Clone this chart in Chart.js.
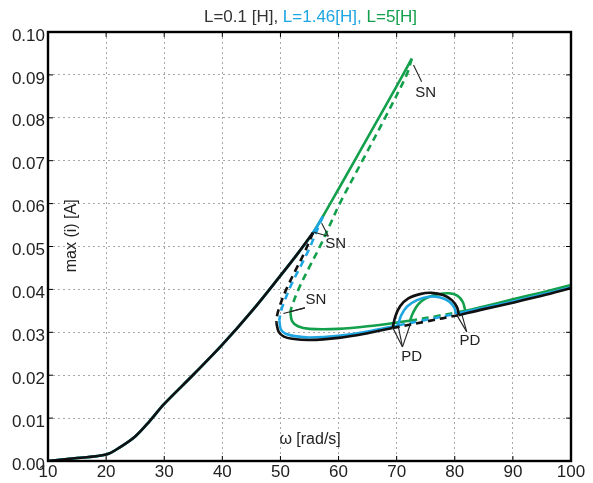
<!DOCTYPE html>
<html>
<head>
<meta charset="utf-8">
<script src="https://cdn.jsdelivr.net/npm/chart.js@4/dist/chart.umd.min.js"></script>
<style>
  html, body { margin: 0; padding: 0; background: #fff; }
  #wrap { width: 593px; height: 483px; }
</style>
</head>
<body>
<div id="wrap"><canvas id="respChart" width="593" height="483"></canvas></div>
<script>
// axis ranges
const omegaRange = [10, 100];
const currentRange = [0, 0.1];

// L = 0.1 H  — [omega, max(i)]
const blackUpper = [[10, 0.0000], [15, 0.0007], [20, 0.0015], [22.5, 0.0033], [25, 0.0057], [27.5, 0.0093], [30, 0.0133], [35, 0.0201], [40, 0.0271], [45, 0.0348], [50, 0.0432], [53, 0.0484], [55.6, 0.0532]];
const blackUnstable = [[55.6, 0.0532], [54.0, 0.0482], [52.5, 0.0442], [51.0, 0.0400], [50.0, 0.0366], [49.4, 0.0338], [49.3, 0.0322]];
const blackLower = [[49.3, 0.0322], [49.7, 0.0301], [50.6, 0.0290], [52, 0.0285], [55, 0.0282], [60, 0.0287], [65, 0.0298], [69.3, 0.0310]];
const blackPeriod1 = [[69.3, 0.0310], [75, 0.0325], [80.7, 0.0340]];
const blackRight = [[80.7, 0.0340], [85, 0.0354], [90, 0.0369], [95, 0.0385], [100, 0.0403]];
const blackPeriod2 = [[69.3, 0.0310], [69.8, 0.0338], [70.6, 0.0361], [72, 0.0379], [74, 0.0389], [76, 0.0392], [78, 0.0387], [79.5, 0.0375], [80.4, 0.0358], [80.7, 0.0340]];

// L = 1.46 H
const blueUpper = [[10, 0.0000], [15, 0.0007], [20, 0.0015], [22.5, 0.0033], [25, 0.0057], [27.5, 0.0093], [30, 0.0133], [35, 0.0201], [40, 0.0271], [45, 0.0348], [50, 0.0432], [53, 0.0484], [55.6, 0.0532], [57.3, 0.0570]];
const blueUnstable = [[57.3, 0.0570], [56.2, 0.0535], [55, 0.0496], [53.5, 0.0455], [52, 0.0415], [50.9, 0.0380], [50.1, 0.0350], [49.8, 0.0328]];
const blueLower = [[49.8, 0.0328], [50.1, 0.0306], [51, 0.0296], [52.5, 0.0291], [55, 0.0288], [60, 0.0292], [65, 0.0302], [70.2, 0.0316]];
const bluePeriod1 = [[70.2, 0.0316], [75, 0.0329], [80.2, 0.0343]];
const blueRight = [[80.2, 0.0343], [85, 0.0357], [90, 0.0372], [95, 0.0388], [100, 0.0405]];
const bluePeriod2 = [[70.2, 0.0316], [70.8, 0.0340], [71.8, 0.0360], [73.5, 0.0375], [75.5, 0.0383], [77.5, 0.0381], [79, 0.0372], [79.9, 0.0358], [80.2, 0.0343]];

// L = 5 H
const greenUpper = [[10, 0.0000], [15, 0.0007], [20, 0.0015], [22.5, 0.0033], [25, 0.0057], [27.5, 0.0093], [30, 0.0133], [35, 0.0201], [40, 0.0271], [45, 0.0348], [50, 0.0432], [53, 0.0484], [55.6, 0.0532], [57.3, 0.0570], [60, 0.0634], [65, 0.0754], [70, 0.0874], [72.6, 0.0938]];
const greenUnstable = [[72.6, 0.0938], [71.7, 0.0900], [68.0, 0.0800], [64.1, 0.0700], [60.2, 0.0600], [58.5, 0.0550], [56.8, 0.0500], [54.9, 0.0450], [53.1, 0.0400], [52.0, 0.0362], [51.7, 0.0348]];
const greenLower = [[51.7, 0.0348], [52.0, 0.0326], [53, 0.0314], [55, 0.0308], [60, 0.0308], [65, 0.0314], [72.3, 0.0327]];
const greenPeriod1 = [[72.3, 0.0327], [77, 0.0338], [81.8, 0.0350]];
const greenRight = [[81.8, 0.0350], [85, 0.0360], [90, 0.0377], [95, 0.0393], [100, 0.0410]];
const greenPeriod2 = [[72.3, 0.0327], [72.8, 0.0345], [73.7, 0.0365], [75, 0.0379], [77, 0.0388], [79, 0.0391], [80.5, 0.0385], [81.4, 0.0370], [81.8, 0.0350]];

// bifurcation notes: label position, leader lines from ends to tip
const notes = [
  { text: 'SN', label: [75.0, 0.0857], tip: [74.3, 0.0884], ends: [[72.9, 0.0923]] },
  { text: 'SN', label: [59.5, 0.0507], tip: [58.25, 0.0524], ends: [[55.66, 0.0534], [57.1, 0.0554]] },
  { text: 'SN', label: [56.1, 0.0375], tip: [54.2, 0.0357], ends: [[50.5, 0.0344], [51.65, 0.0348]] },
  { text: 'PD', label: [72.6, 0.0242], tip: [71.0, 0.0266], ends: [[69.4, 0.0309], [70.3, 0.0312], [72.3, 0.0317]] },
  { text: 'PD', label: [82.6, 0.0280], tip: [82.06, 0.0301], ends: [[80.35, 0.0340], [81.25, 0.0340]] }
];

const titleParts = [['L=0.1 [H], ', '#333333'], ['L=1.46[H], ', '#1ea6e2'], ['L=5[H]', '#13a04c']];

const BLACK = '#111111', BLUE = '#1ea6e2', GREEN = '#13a04c';

function pts(list) {
  return list.map(p => ({ x: p[0], y: p[1] }));
}

function branch(list, color, dashed, order) {
  return {
    data: pts(list),
    borderColor: color,
    borderWidth: 2.6,
    borderDash: dashed ? [7, 5] : [],
    pointRadius: 0,
    tension: 0.35,
    fill: false,
    order: order
  };
}

const datasets = [
  branch(greenUpper, GREEN, false, 2),
  branch(greenUnstable, GREEN, true, 2),
  branch(greenLower, GREEN, false, 2),
  branch(greenPeriod1, GREEN, true, 2),
  branch(greenRight, GREEN, false, 2),
  branch(greenPeriod2, GREEN, false, 2),
  branch(blueUpper, BLUE, false, 1),
  branch(blueUnstable, BLUE, true, 1),
  branch(blueLower, BLUE, false, 1),
  branch(bluePeriod1, BLUE, true, 1),
  branch(blueRight, BLUE, false, 1),
  branch(bluePeriod2, BLUE, false, 1),
  branch(blackUpper, BLACK, false, 0),
  branch(blackUnstable, BLACK, true, 0),
  branch(blackLower, BLACK, false, 0),
  branch(blackPeriod1, BLACK, true, 0),
  branch(blackRight, BLACK, false, 0),
  branch(blackPeriod2, BLACK, false, 0)
];

// frame, inner ticks, notes, axis captions and the coloured title
const decorations = {
  id: 'decorations',
  afterDraw(chart) {
    const { ctx, chartArea: a, scales: { x, y } } = chart;
    const px = v => x.getPixelForValue(v);
    const py = v => y.getPixelForValue(v);

    ctx.save();
    ctx.strokeStyle = '#000';
    ctx.lineWidth = 1;
    x.ticks.forEach(t => {
      const p = px(t.value);
      ctx.beginPath();
      ctx.moveTo(p, a.top); ctx.lineTo(p, a.top + 5);
      ctx.moveTo(p, a.bottom); ctx.lineTo(p, a.bottom - 5);
      ctx.stroke();
    });
    y.ticks.forEach(t => {
      const p = py(t.value);
      ctx.beginPath();
      ctx.moveTo(a.left, p); ctx.lineTo(a.left + 5, p);
      ctx.moveTo(a.right, p); ctx.lineTo(a.right - 5, p);
      ctx.stroke();
    });
    ctx.lineWidth = 2.4;
    ctx.strokeRect(a.left, a.top, a.width, a.height);

    // leader lines + labels
    ctx.strokeStyle = '#222';
    ctx.lineWidth = 1.1;
    ctx.fillStyle = '#222';
    ctx.font = '15px "Liberation Sans", Arial, sans-serif';
    ctx.textAlign = 'center';
    ctx.textBaseline = 'middle';
    notes.forEach(n => {
      n.ends.forEach(e => {
        ctx.beginPath();
        ctx.moveTo(px(e[0]), py(e[1]));
        ctx.lineTo(px(n.tip[0]), py(n.tip[1]));
        ctx.stroke();
      });
      ctx.fillText(n.text, px(n.label[0]), py(n.label[1]));
    });

    // axis captions inside the plot
    ctx.font = '16px "Liberation Sans", Arial, sans-serif';
    ctx.fillText('ω [rad/s]', px(55.1), py(0.0050));
    ctx.save();
    ctx.translate(px(14.1), py(0.0525));
    ctx.rotate(-Math.PI / 2);
    ctx.fillText('max (i) [A]', 0, 0);
    ctx.restore();

    // title
    ctx.font = '17px "Liberation Sans", Arial, sans-serif';
    ctx.textAlign = 'left';
    const total = titleParts.reduce((s, p) => s + ctx.measureText(p[0]).width, 0);
    let tx = (a.left + a.right) / 2 - total / 2 + 1;
    titleParts.forEach(p => {
      ctx.fillStyle = p[1];
      ctx.fillText(p[0], tx, 17);
      tx += ctx.measureText(p[0]).width;
    });
    ctx.restore();
  }
};

const ctx = document.getElementById('respChart');

new Chart(ctx, {
  type: 'line',
  data: { datasets: datasets },
  options: {
    responsive: false,
    animation: false,
    layout: { padding: { top: 32, right: 22, left: 0, bottom: 0 } },
    scales: {
      x: {
        type: 'linear',
        min: omegaRange[0],
        max: omegaRange[1],
        afterFit(s) { s.height = 22; },
        ticks: {
          stepSize: 10,
          padding: 1,
          color: '#222',
          font: { family: '"Liberation Sans", Arial, sans-serif', size: 17 }
        },
        grid: {
          drawTicks: false,
          color: '#a8a8a8',
          lineWidth: 1
        },
        border: { display: false, dash: [2, 3] }
      },
      y: {
        type: 'linear',
        min: currentRange[0],
        max: currentRange[1],
        afterFit(s) { s.width = 48; },
        ticks: {
          stepSize: 0.01,
          padding: 3,
          color: '#222',
          labelOffset: 4,
          font: { family: '"Liberation Sans", Arial, sans-serif', size: 17 },
          callback: v => v.toFixed(2)
        },
        grid: {
          drawTicks: false,
          color: '#a8a8a8',
          lineWidth: 1
        },
        border: { display: false, dash: [2, 3] }
      }
    },
    plugins: {
      legend: { display: false },
      tooltip: { enabled: false }
    }
  },
  plugins: [decorations]
});
</script>
</body>
</html>
